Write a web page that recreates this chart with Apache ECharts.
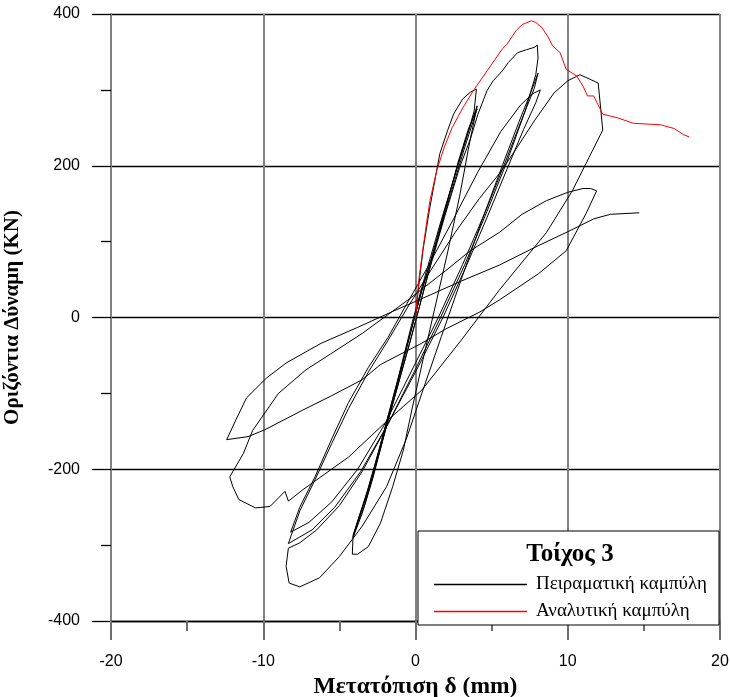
<!DOCTYPE html>
<html>
<head>
<meta charset="utf-8">
<script src="https://cdn.jsdelivr.net/npm/echarts@6.0.0/dist/echarts.min.js"></script>
<style>
  html, body { margin: 0; padding: 0; background: #fff; }
  #chart { width: 730px; height: 697px; }
</style>
</head>
<body>
<div id="chart"></div>
<script>
// Πειραματική καμπύλη: [μετατόπιση mm, δύναμη KN], κατά κύκλους
const cycles4 = [
  [0, 0], [0.2, 40], [0.5, 90], [0.9, 140], [1.3, 184], [1.6, 216], [2.1, 246], [2.5, 268], [3.1, 288], [3.6, 297], [4.0, 301],
  [3.85, 272], [3.4, 240], [2.7, 195], [1.9, 140], [1.0, 75], [0.2, 20], [-0.7, -50], [-1.6, -120], [-2.4, -180], [-3.2, -235], [-3.8, -268], [-4.1, -287],
  [-4.15, -312], [-3.8, -312], [-3.1, -302], [-2.3, -271], [-1.5, -223], [-0.8, -175], [-0.2, -118], [0.5, -55], [1.3, 15], [2.1, 85], [2.9, 160], [3.5, 225], [4.05, 279],
  [3.3, 235], [2.5, 182], [1.6, 122], [0.7, 60], [-0.2, -5], [-1.2, -85], [-2.2, -160], [-3.1, -225], [-3.7, -262], [-4.1, -290],
  [-3.5, -258], [-2.8, -212], [-2.0, -150], [-1.1, -85], [-0.2, -20], [0.8, 55], [1.8, 130], [2.8, 205], [3.5, 250], [4.05, 275],
  [3.2, 222], [2.3, 162], [1.4, 100], [0.4, 35], [-0.6, -40], [-1.6, -115], [-2.6, -190], [-3.4, -245], [-4.05, -285]
];
const cycles8 = [
  [-3.3, -245], [-2.3, -172], [-1.3, -100], [-0.3, -28], [0.8, 55], [1.9, 132], [2.9, 198], [3.6, 235], [4.1, 268], [4.7, 299], [5.1, 312], [5.7, 325], [6.1, 336], [6.7, 349], [7.3, 353], [7.8, 356], [8.0, 359],
  [8.05, 342], [7.9, 320], [7.2, 272], [6.0, 205], [4.7, 140], [3.2, 68], [1.6, -2], [0, -68], [-1.8, -140], [-3.5, -203], [-5.0, -248], [-6.5, -280], [-7.6, -297], [-8.35, -304],
  [-8.5, -328], [-8.3, -350], [-7.6, -355], [-6.3, -343], [-5.0, -315], [-3.5, -275], [-1.9, -223], [-0.6, -160], [0.5, -95], [1.7, -25], [3.0, 50], [4.4, 130], [5.7, 200], [6.8, 258], [7.6, 298], [8.05, 322],
  [7.8, 302], [7.0, 262], [5.9, 205], [4.6, 140], [3.1, 70], [1.5, 0], [-0.2, -68], [-2.0, -140], [-3.8, -200], [-5.5, -243], [-7.0, -270], [-8.2, -283],
  [-7.6, -250], [-6.6, -210], [-5.5, -160], [-4.4, -112], [-3.1, -66], [-1.8, -26], [-0.6, 17], [0.9, 70], [2.5, 130], [4.1, 192], [5.6, 245], [6.9, 280], [7.7, 295], [8.2, 300],
  [7.9, 283], [7.1, 248], [6.0, 195], [4.7, 132], [3.3, 66], [1.8, 0], [0.1, -68], [-1.8, -140], [-3.6, -203], [-5.3, -250], [-6.8, -280], [-8.35, -298]
];
const cycles12 = [
  [-7.6, -255], [-6.6, -214], [-5.5, -166], [-4.4, -120], [-3.1, -72], [-1.8, -30], [-0.5, 14], [1.0, 62], [2.6, 112], [4.2, 157], [5.6, 192], [6.7, 225], [7.8, 259], [9.1, 296], [10.0, 312], [10.8, 320], [12.0, 309], [12.3, 247],
  [11.4, 211], [10.3, 167], [8.6, 112], [5.5, 36], [3.0, -30], [0.4, -96], [-1.8, -135], [-4.4, -184], [-7.4, -227], [-8.35, -242], [-8.57, -229], [-9.55, -249], [-10.5, -251], [-11.6, -240], [-12.0, -223], [-12.2, -210],
  [-11.3, -179], [-10.7, -149], [-9.0, -100], [-7.2, -69], [-5.5, -47], [-3.5, -21], [-0.5, 23], [2.0, 62], [3.6, 88], [5.5, 112], [7.0, 136], [8.6, 154], [10.0, 165], [11.0, 170], [11.5, 170], [11.9, 167],
  [11.2, 137], [9.9, 88], [8.1, 58], [5.5, 23], [4.2, 7], [2.0, -15], [0.4, -34], [-2.3, -62], [-3.5, -82], [-5.5, -103], [-7.4, -122], [-9.9, -148], [-11.0, -157], [-12.4, -161]
];
const finalPush = [
  [-11.8, -135], [-11.1, -106], [-9.8, -80], [-8.5, -60], [-6.2, -34], [-3.8, -13], [-1.5, 8], [1.0, 30], [3.0, 48], [5.5, 69], [8.1, 95], [10.0, 113], [11.7, 130], [12.8, 136], [14.7, 138]
];

// Αναλυτική καμπύλη
const anaDisp = [0, 0.1, 0.25, 0.47, 0.73, 0.95, 1.4, 1.9, 2.4, 3.1, 3.8, 4.7, 5.7, 6.0, 6.6, 7.0, 7.6, 7.9, 8.3, 8.7, 9.0, 9.5, 9.9, 10.3, 10.6, 11.0, 11.3, 11.7, 12.0, 12.3, 13.3, 14.3, 15.2, 16.1, 17.0, 17.6, 17.97];
const anaForce = [0, 23, 55, 88, 125, 154, 194, 225, 250, 276, 299, 325, 354, 360, 378, 386, 391, 389, 382, 370, 358, 349, 327, 322, 318, 305, 292, 292, 280, 268, 263, 256, 255, 254, 249, 241, 238];

const xTicks = [-20, -10, 0, 10, 20];
const yTicks = [-400, -200, 0, 200, 400];

const expData = cycles4.concat(cycles8, cycles12, finalPush);
const anaData = anaDisp.map((d, i) => [d, anaForce[i]]);

const serif = '"Liberation Serif", "DejaVu Serif", serif';
const sans = '"Liberation Sans", Arial, sans-serif';

const chart = echarts.init(document.getElementById('chart'), null, { renderer: 'canvas' });
const option = {
  animation: false,
  backgroundColor: '#fff',
  grid: { left: 111, right: 10, top: 14, bottom: 76, containLabel: false, outerBoundsMode: 'none' },
  xAxis: {
    type: 'value',
    min: xTicks[0], max: xTicks[xTicks.length - 1], interval: 10,
    name: 'Μετατόπιση δ (mm)',
    nameLocation: 'middle', nameGap: 51,
    nameTextStyle: { fontFamily: serif, fontWeight: 'bold', fontSize: 23.5, color: '#000' },
    axisLine: { onZero: false, lineStyle: { color: '#000', width: 1.3 } },
    axisTick: { show: true, inside: false, length: 19, lineStyle: { color: '#6e6e6e', width: 2 } },
    minorTick: { show: true, splitNumber: 2, length: 10, lineStyle: { color: '#6e6e6e', width: 2 } },
    axisLabel: { margin: 33, fontFamily: sans, fontSize: 16, color: '#000' },
    splitLine: { show: true, lineStyle: { color: '#808080', width: 2 } }
  },
  yAxis: {
    type: 'value',
    min: yTicks[0], max: yTicks[yTicks.length - 1], interval: 200,
    name: 'Οριζόντια Δύναμη (KN)',
    nameLocation: 'middle', nameGap: 88,
    nameTextStyle: { fontFamily: serif, fontWeight: 'bold', fontSize: 21, color: '#000' },
    axisLine: { onZero: false, lineStyle: { color: '#808080', width: 2 } },
    axisTick: { show: true, inside: false, length: 19, lineStyle: { color: '#000', width: 1.3 } },
    minorTick: { show: true, splitNumber: 2, length: 10, lineStyle: { color: '#000', width: 1.3 } },
    axisLabel: { margin: 31, fontFamily: sans, fontSize: 16, color: '#000' },
    splitLine: { show: true, lineStyle: { color: '#000', width: 1.3 } }
  },
  legend: {
    orient: 'vertical',
    left: 429, top: 570,
    icon: 'rect',
    itemWidth: 93, itemHeight: 1.3, itemGap: 8,
    z: 200,
    textStyle: { fontFamily: serif, fontSize: 19, color: '#000', padding: [0, 0, 0, 4] },
    data: ['Πειραματική καμπύλη', 'Αναλυτική καμπύλη']
  },
  graphic: [
    {
      type: 'rect', z: 100,
      shape: { x: 418, y: 531, width: 301, height: 94 },
      style: { fill: '#fff', stroke: '#000', lineWidth: 1 }
    },
    {
      type: 'text', z: 101,
      x: 570, y: 555,
      style: {
        text: 'Τοίχος 3', fill: '#000',
        font: 'bold 25px "Liberation Serif", "DejaVu Serif", serif',
        align: 'center', verticalAlign: 'middle'
      }
    }
  ],
  series: [
    {
      name: 'Πειραματική καμπύλη',
      type: 'line',
      data: expData,
      symbol: 'none',
      lineStyle: { color: '#000', width: 1 },
      itemStyle: { color: '#000' },
      z: 3
    },
    {
      name: 'Αναλυτική καμπύλη',
      type: 'line',
      data: anaData,
      symbol: 'none',
      lineStyle: { color: '#ff0000', width: 1 },
      itemStyle: { color: '#ff0000' },
      z: 4
    }
  ]
};
chart.setOption(option);
</script>
</body>
</html>
